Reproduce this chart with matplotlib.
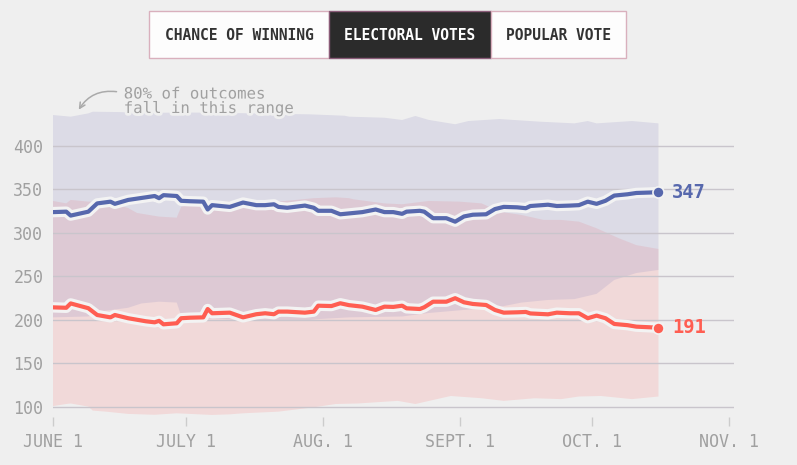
import matplotlib
matplotlib.use("Agg")
import matplotlib.pyplot as plt
import matplotlib.patheffects as pe
from matplotlib.patches import Rectangle

# ---------------- data (days since June 1) ----------------
line_days = [0, 3, 4, 8, 10, 13, 14, 17, 21, 23, 24, 25, 28, 29, 31, 34, 35, 36, 40, 43,
             46, 48, 50, 51, 53, 57, 59, 60, 63, 65, 67, 70, 73, 75, 77, 79, 80, 83, 84, 86,
             89, 91, 93, 95, 98, 100, 102, 105, 107, 108, 112, 114, 117, 119, 121, 123, 125,
             127, 130, 132, 135, 137]
clinton_ev = [324, 324.5, 320, 324.5, 334, 336, 333.5, 338, 341, 342.5, 340, 343.5, 342.5, 337,
              336.5, 336, 327, 332, 330, 335, 332, 332, 333, 330, 329, 331.5, 329, 325.5, 325.5,
              321.5, 322.5, 324, 327, 324, 324, 322, 324.5, 325.5, 324.5, 317, 317, 313, 319,
              321, 321.5, 327.5, 330, 329.5, 328.5, 331, 332.5, 331, 331.5, 332, 336, 333.5,
              337, 343, 344.5, 346, 346.5, 347]
trump_ev = [214.5, 214, 219, 213.5, 205.7, 203, 205.7, 202, 198.5, 197.3, 199, 195, 196.2, 202,
            202.6, 203, 212.6, 207.7, 208.4, 203, 206.6, 207.7, 206.6, 209.6, 209.6, 208.4,
            209.6, 216.4, 216, 219.2, 217, 215.3, 211.5, 215.3, 215, 216.4, 213.4, 212.6, 214.6,
            221, 221, 225, 220.3, 218.4, 217.2, 211.5, 208.4, 208.8, 209.2, 207.5, 206.5, 208.4,
            207.7, 207.7, 202, 205, 202, 195.4, 194, 192.3, 191.6, 191]

clinton_hi_days = [0, 4, 8, 9, 15, 20, 30, 40, 50, 58, 66, 67, 75, 79, 82, 85, 91, 94, 101,
                   110, 118, 121, 123, 131, 137]
clinton_hi = [435.6, 433.7, 437.5, 439.4, 439, 438, 438.5, 438, 437, 436.4, 434.8, 433.7, 432.5,
              429.9, 434.5, 430, 425, 428.7, 431, 428, 426, 428.7, 426, 428.7, 426]
clinton_lo_days = [0, 8, 11, 17, 20, 24, 28, 29, 33, 45, 56, 60, 67, 79, 85, 94, 101, 106, 112,
                   118, 123, 127, 132, 137]
clinton_lo = [203, 204, 210, 214, 219, 221, 220, 205, 202, 200, 199, 201, 203, 204, 208, 212,
              215, 220, 223, 224, 230, 246, 254, 257.5]

trump_hi_days = [0, 3, 4, 8, 12, 17, 19, 24, 28, 29, 34, 40, 51, 59, 64, 67, 68, 75, 79, 85,
                 92, 97, 101, 106, 111, 115, 119, 123, 128, 132, 137]
trump_hi = [336.8, 334, 338, 336, 336, 328.7, 323, 318.8, 317.6, 330, 337, 336, 336, 340, 341,
            340, 338.7, 334, 333, 336.8, 336, 334, 324.5, 320.7, 315, 315, 313, 305.4, 294, 286,
            281.6]
trump_lo_days = [0, 3, 4, 8, 9, 12, 17, 23, 28, 36, 40, 43, 51, 59, 64, 69, 78, 82, 90, 97, 102,
                 109, 115, 119, 124, 131, 137]
trump_lo = [101, 103.4, 104, 100.4, 95.8, 94.6, 92, 91, 92.7, 90.8, 91.5, 92.7, 94.6, 99.6,
            103.4, 104, 107, 103.4, 112.6, 110, 107, 110, 109, 112, 112.6, 109, 112]

tick_days = [0, 30, 61, 92, 122, 153]
tick_labels = ["JUNE 1", "JULY 1", "AUG. 1", "SEPT. 1", "OCT. 1", "NOV. 1"]
y_ticks = [100, 150, 200, 250, 300, 350, 400]
tabs = ["CHANCE OF WINNING", "ELECTORAL VOTES", "POPULAR VOTE"]

# ---------------- style ----------------
BG = "#efefef"
BLUE = "#5768ad"
RED = "#ff5e52"
GRAY = "#a0a0a0"
MONO = ["DejaVu Sans Mono"]

fig = plt.figure(figsize=(7.97, 4.65), dpi=100, facecolor=BG)
ax = fig.add_axes([0.0665, 0.1024, 0.8545, 0.6678])
ax.set_facecolor(BG)

# bands
ax.fill(trump_hi_days + trump_lo_days[::-1], trump_hi + trump_lo[::-1],
        color=(254/255, 129/255, 129/255), alpha=0.2, lw=0, zorder=1)
ax.fill(clinton_hi_days + clinton_lo_days[::-1], clinton_hi + clinton_lo[::-1],
        color=(144/255, 139/255, 194/255), alpha=0.2, lw=0, zorder=1.1)

# grid
for v in y_ticks:
    ax.axhline(v, color="#c9c5cc", lw=1, zorder=2)

halo = [pe.Stroke(linewidth=7.5, foreground="#f3f3f3"), pe.Normal()]
ax.plot(line_days, clinton_ev, color=BLUE, lw=3, solid_joinstyle="round",
        path_effects=halo, zorder=4)
ax.plot(line_days, trump_ev, color=RED, lw=3, solid_joinstyle="round",
        path_effects=halo, zorder=4)
ax.plot(line_days[-1], clinton_ev[-1], "o", ms=8, color=BLUE, mec="#f3f3f3", mew=1.2, zorder=5)
ax.plot(line_days[-1], trump_ev[-1], "o", ms=8, color=RED, mec="#f3f3f3", mew=1.2, zorder=5)

ax.annotate(f"{clinton_ev[-1]:.0f}", (line_days[-1], clinton_ev[-1]), xytext=(10, 0),
            textcoords="offset points", va="center", ha="left", color=BLUE,
            fontsize=13.5, fontweight="bold", family=MONO, zorder=6)
ax.annotate(f"{trump_ev[-1]:.0f}", (line_days[-1], trump_ev[-1]), xytext=(10, 0),
            textcoords="offset points", va="center", ha="left", color=RED,
            fontsize=13.5, fontweight="bold", family=MONO, zorder=6)

ax.set_xlim(0, 154.1)
ax.set_ylim(88, 445)
ax.set_xticks(tick_days)
ax.set_xticklabels(tick_labels, family=MONO, fontsize=12, color=GRAY)
ax.set_yticks(y_ticks)
ax.set_yticklabels([str(v) for v in y_ticks], family=MONO, fontsize=12, color=GRAY)
ax.tick_params(axis="x", length=6.5, width=1, color="#cccccc", pad=4.5)
ax.tick_params(axis="y", length=0, pad=7)
for s in ax.spines.values():
    s.set_visible(False)

# annotation
ax.text(16, 434.5, "80% of outcomes\nfall in this range", family=MONO, fontsize=11.3,
        color=GRAY, va="bottom", ha="left", linespacing=0.95, zorder=6,
        path_effects=[pe.Stroke(linewidth=4, foreground=BG), pe.Normal()])
ax.annotate("", xy=(5.5, 439), xytext=(15, 462), xycoords="data", textcoords="data",
            annotation_clip=False,
            arrowprops=dict(arrowstyle="->", color="#aaaaaa", lw=1.1,
                            connectionstyle="arc3,rad=0.35"), zorder=6)

# tab buttons
W, H = 797.0, 465.0
boxes = [(149, 329), (329, 491), (491, 626)]
for i, ((x0, x1), lab) in enumerate(zip(boxes, tabs)):
    active = i == 1
    r = Rectangle((x0 / W, 1 - 58.5 / H), (x1 - x0) / W, 47.5 / H, transform=fig.transFigure,
                  facecolor="#2b2b2b" if active else "#fdfdfd",
                  edgecolor="#d9b0bd" if not active else "#8a5c78", lw=1.0)
    fig.add_artist(r)
    fig.text((x0 + x1) / 2 / W, 1 - 35 / H, lab, ha="center", va="center",
             family=MONO, fontweight="bold", fontsize=10.5,
             color="#ffffff" if active else "#333333")

fig.savefig("out.png", dpi=100, facecolor=BG)
